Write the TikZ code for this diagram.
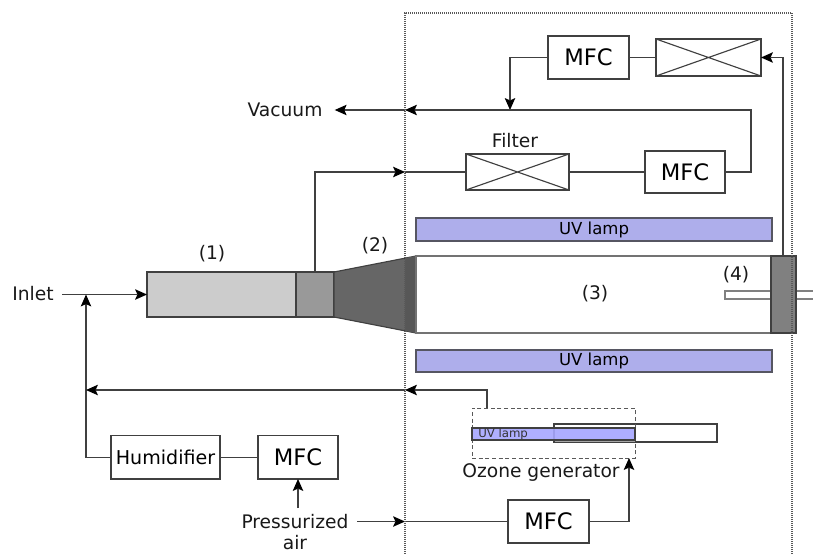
\documentclass[tikz,border=0pt]{standalone}
\usepackage{fontspec}
\setmainfont{DejaVu Sans}
\usetikzlibrary{arrows.meta,calc}
\definecolor{ln}{HTML}{404040}
\definecolor{lamp}{HTML}{AEAEEB}
\definecolor{ozolampcol}{HTML}{A6A6FF}
\tikzset{
  x=0.75pt,y=-0.75pt,
  wire/.style={draw=ln,line width=0.85pt},
  flow/.style={wire,-{Stealth[length=9pt,width=8pt,inset=1.8pt,fill=black,line width=0pt]}},
  box/.style={draw=ln,line width=0.85pt,fill=white,inner sep=0pt,outer sep=0pt,rectangle,font=\fontsize{17}{20}\selectfont},
  part/.style={box},
  lampbox/.style={box,draw=ln!80!lamp,fill=lamp,font=\fontsize{12.4}{14}\selectfont},
  lab/.style={inner sep=0pt,font=\fontsize{14}{16}\selectfont,text=black!90},
}
\newcommand{\rbox}[6][box]{% style,name,x1,y1,x2,y2
  \node[#1,minimum width={(#5-#3)*0.75pt},minimum height={(#6-#4)*0.75pt}] (#2) at ({(#3+#5)/2},{(#4+#6)/2})}
\begin{document}
\begin{tikzpicture}
\useasboundingbox (0,0) rectangle (813,553);
% main reactor
\rbox[part,fill=black!20]{sampler}{147}{272}{296}{317} {};
\rbox[part,fill=black!40]{collar}{296}{272}{334}{317} {};
\filldraw[draw=ln,line width=0.85pt,fill=black!60] (collar.north east) -- (416,256) -- (416,333) -- (collar.south east) -- cycle;
\fill[black!66] (405,258.1) -- (416,256) -- (416,333) -- (405,330.9) -- cycle;
\rbox[part,draw=black!55]{tube}{416}{256}{772}{333} {};
\rbox[part,draw=black!50,line width=1pt]{probe}{725}{291}{772}{299} {};
\rbox[part,draw=black!50,line width=1pt]{probeout}{796}{291}{830}{299} {};
\rbox[part,fill=black!50]{flange}{771}{256}{796}{333} {};
\rbox[lampbox]{lampa}{416}{218}{772}{241} {UV lamp};
\rbox[lampbox]{lampb}{416}{350}{772}{372} {UV lamp};
% top circuit
\rbox{mfca}{548}{36}{629}{79} {MFC};
\rbox{valvea}{656}{39}{761}{76} {};
\draw[ln,line width=0.85pt] (valvea.north west) -- (valvea.south east) (valvea.south west) -- (valvea.north east);
\rbox{valveb}{466}{154}{569}{190} {};
\draw[ln,line width=0.85pt] (valveb.north west) -- (valveb.south east) (valveb.south west) -- (valveb.north east);
\rbox{mfcb}{645}{151}{725}{193} {MFC};
\node[lab] (filter) at (515,141) {Filter};
\node[lab] (vacuum) at (285,110) {Vacuum};
\coordinate (vacj) at (510,110);
\coordinate (vacr) at (405,110);
\coordinate (leftj) at (405,172);
\path[wire] (mfca) -- (valvea);
\path[wire] (valveb) -- (mfcb);
\path[flow] (mfca.west) -| (vacj);
\path[flow] (mfcb.east) -| (751,110) -- (vacr);
\path[flow] (vacr) -- ([xshift=9pt]vacuum.east);
\path[flow] (collar.north) |- (leftj);
\path[wire] (leftj) -- (valveb.west);
\path[flow] (flange.north -| 783,256) |- (valvea.east);
% ozone generator
\rbox{ozotube}{554}{424}{717}{442} {};
\fill[black!35] (554.5,440) rectangle (635,441.5);
\rbox[part,dash pattern=on 3pt off 2pt,fill=none,draw=black!65,line width=0.6pt]{ozo}{472}{408}{635}{458} {};
\rbox[part,fill=ozolampcol,fill opacity=0.9,draw=ln]{ozolamp}{472}{428}{635}{440} {};
\node[inner sep=0pt,anchor=west,font=\fontsize{8.8}{10}\selectfont,text=black!80] (ozolabel) at (478,434) {UV lamp};
\node[lab] (ozotext) at (541,473) {Ozone generator};
% lower circuit
\rbox{mfcc}{508}{500}{589}{543} {MFC};
\rbox[box,font=\fontsize{14.3}{17}\selectfont]{hum}{111}{435.5}{220}{479} {Humidifier};
\rbox{mfcd}{258}{435.5}{338}{479} {MFC};
\node[lab] (inlet) at (33,294) {Inlet};
\node[lab] (press) at (295,522) {Pressurized};
\node[lab,anchor=base] (air) at (295,549) {air};
\coordinate (inj) at (86,294.5);
\coordinate (retj) at (86,390);
\coordinate (retm) at (405,390);
\coordinate (pressj) at (405,521.5);
\coordinate (inlets) at (62,294.5);
\coordinate (presse) at (357,521.5);
\coordinate (pressn) at (298,508);
\path[flow] (inlets) -- (sampler.west);
\path[flow] (hum.west) -| (inj);
\path[wire] (hum) -- (mfcd);
\path[flow] (pressn) -- (mfcd.south -| pressn);
\path[flow] (presse) -- (pressj);
\path[wire] (pressj) -- (mfcc.west);
\path[flow] (mfcc.east) -| (629,458);
\path[flow] (487,408) |- (retm);
\path[flow] (retm) -- (retj);
% enclosure
\draw[black!65,line width=0.8pt,dash pattern=on 0.75pt off 0.75pt] (405,560) -- (405,13) -- (792,13) -- (792,560);
\node[lab] (one) at (212,254) {(1)};
\node[lab] (two) at (375,246) {(2)};
\node[lab] (three) at (595,294) {(3)};
\node[lab] (four) at (736,275) {(4)};
\end{tikzpicture}
\end{document}
